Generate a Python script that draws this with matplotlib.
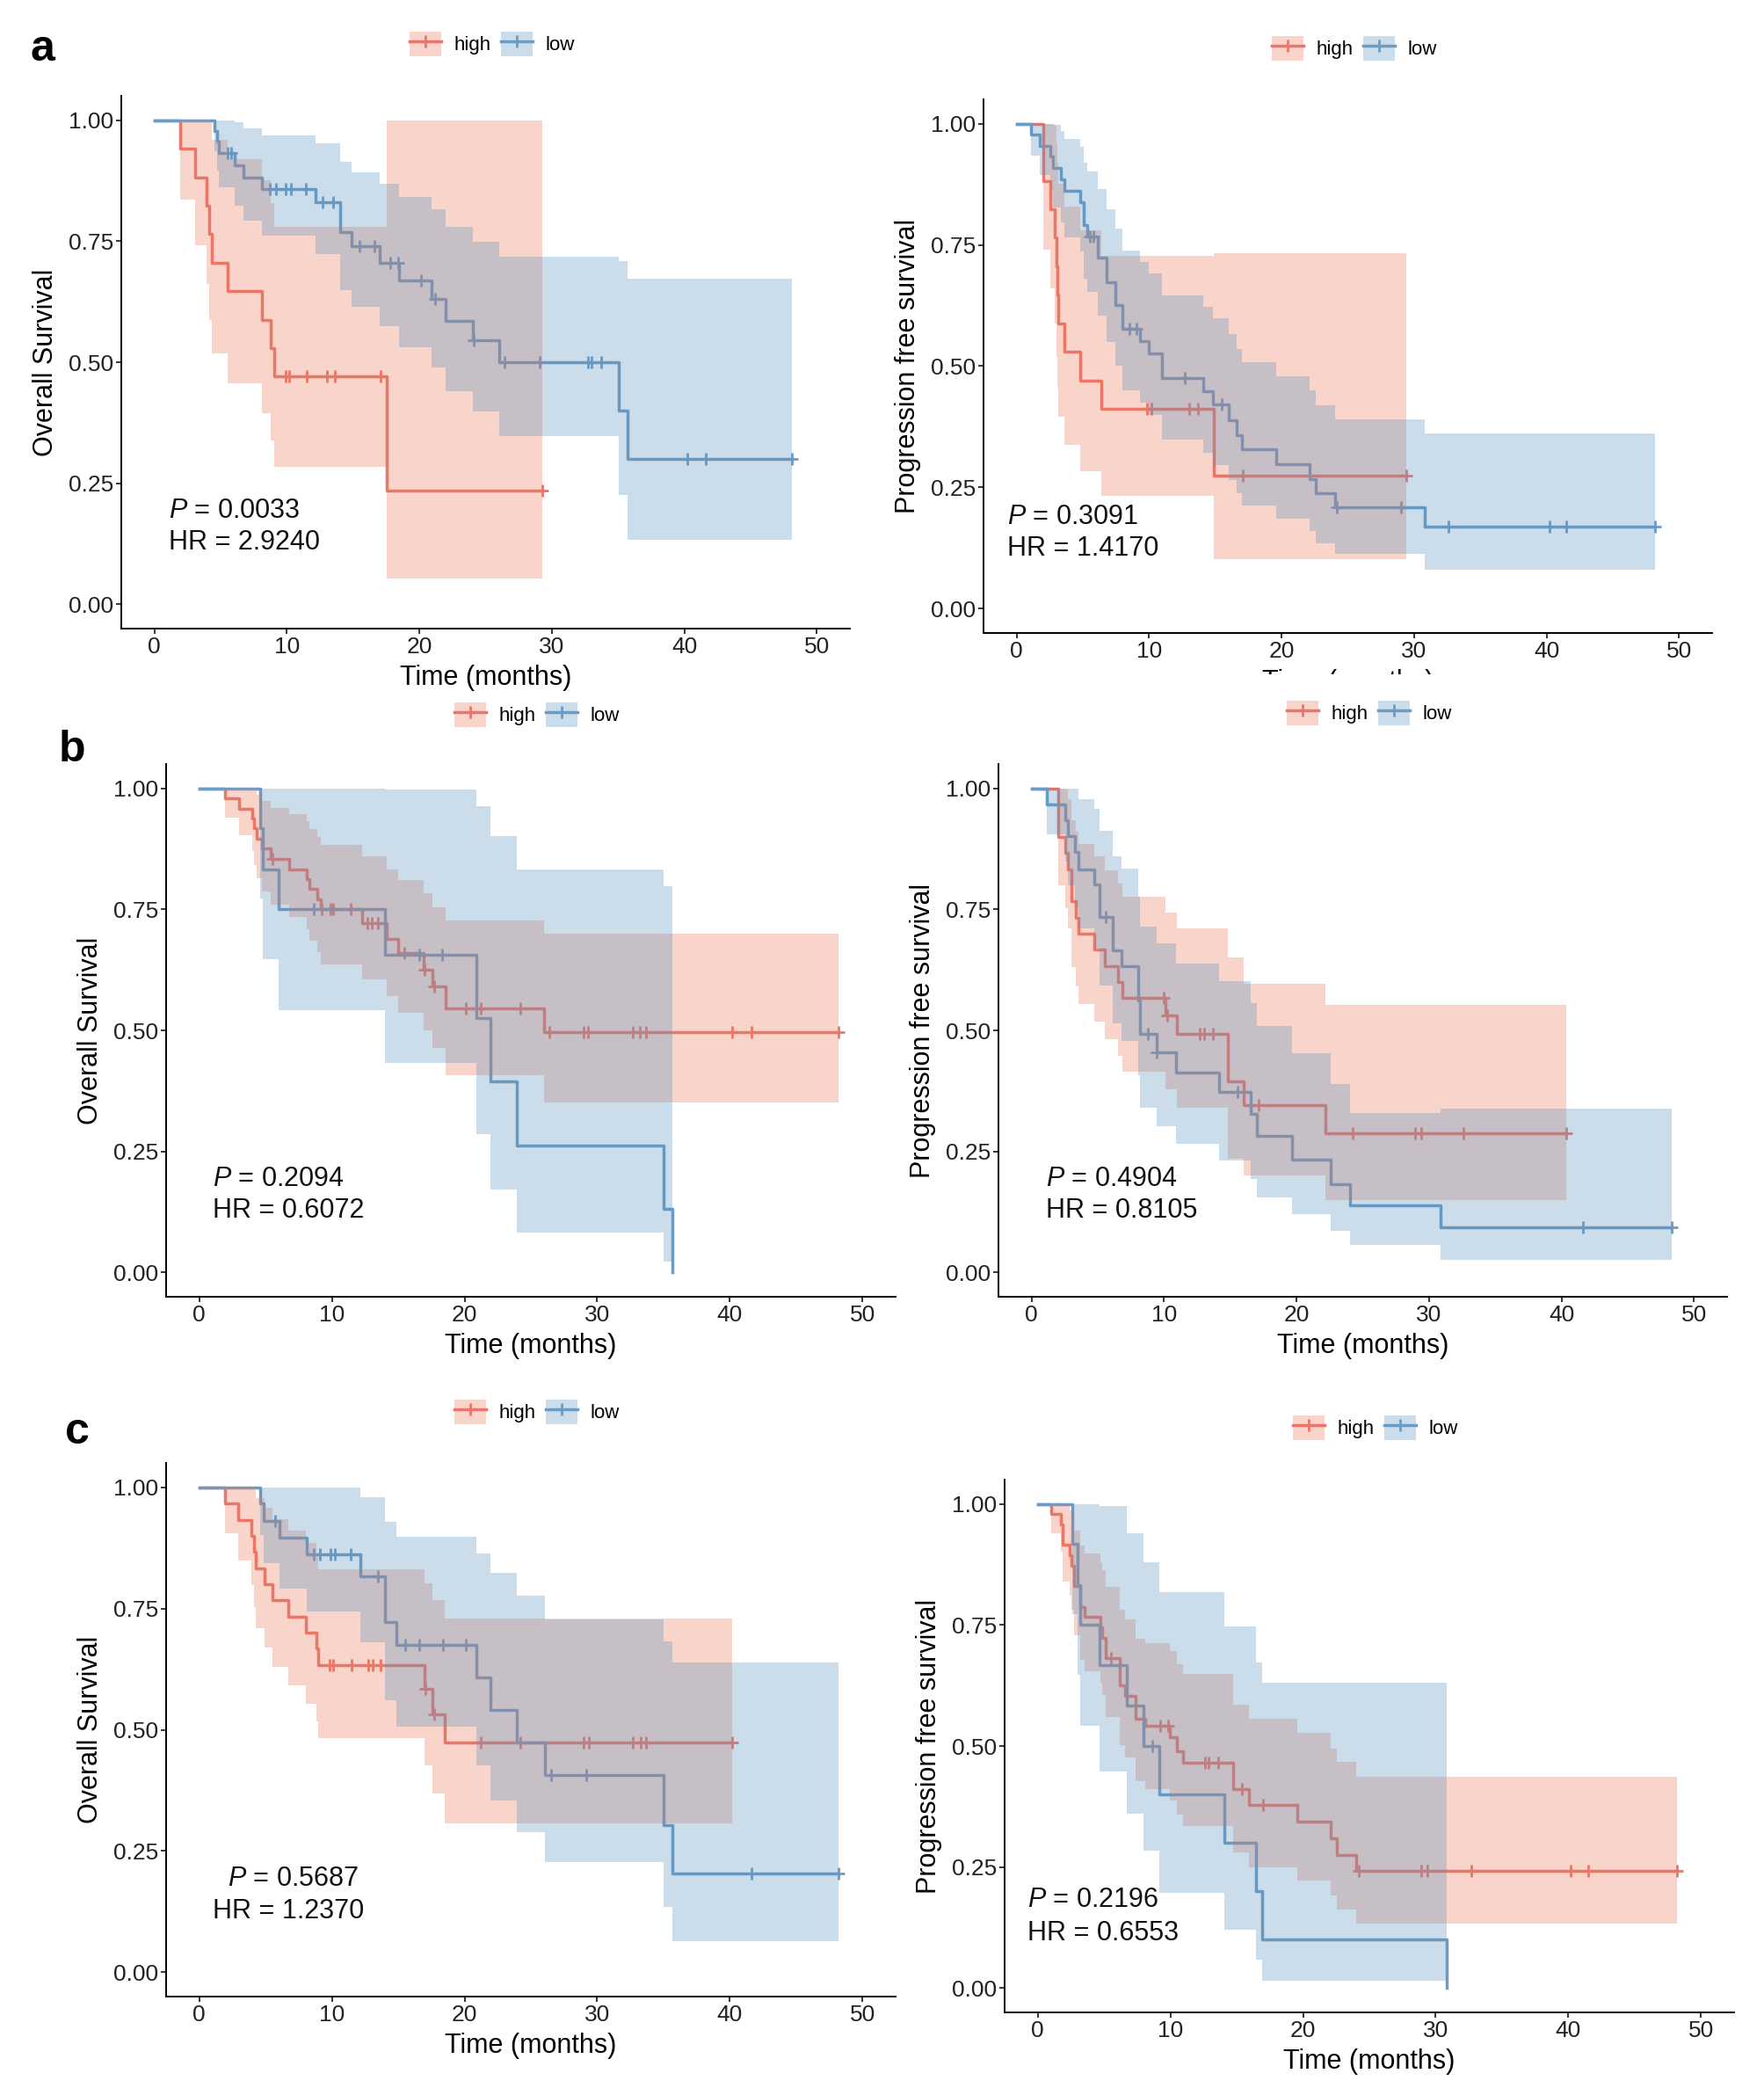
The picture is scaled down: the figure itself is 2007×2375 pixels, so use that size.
import matplotlib

matplotlib.use("Agg")

import matplotlib.pyplot as plt
import numpy as np
from matplotlib.legend_handler import HandlerTuple
from matplotlib.lines import Line2D
from matplotlib.patches import Patch
from matplotlib.transforms import Bbox, TransformedBbox

plt.rcParams["font.family"] = ["Liberation Sans", "DejaVu Sans"]
plt.rcParams["mathtext.fontset"] = "custom"
plt.rcParams["mathtext.rm"] = "Liberation Sans"
plt.rcParams["mathtext.it"] = "Liberation Sans:italic"

W, H = 2008, 2375
HIGH_COLOR = "#E9756B"
LOW_COLOR = "#6C9BC3"
HIGH_BAND = "#EF7A5A"
LOW_BAND = "#5F93C0"
BAND_ALPHA = 0.32
GROUPS = ["high", "low"]
X_TICKS = [0, 10, 20, 30, 40, 50]
Y_TICKS = [0.0, 0.25, 0.50, 0.75, 1.0]
Y_TICK_LABELS = ["0.00", "0.25", "0.50", "0.75", "1.00"]
X_LABEL = "Time (months)"

# ---- panel a, overall survival ----
A_OS_HIGH_T = [1.95, 3.05, 3.95, 4.12, 4.32, 5.55, 8.1, 8.8, 9.02, 17.53]
A_OS_HIGH_S = [0.941, 0.882, 0.824, 0.765, 0.706, 0.647, 0.588, 0.529, 0.471, 0.235]
A_OS_HIGH_HI = [1.0, 1.0, 1.0, 0.996, 0.959, 0.919, 0.876, 0.829, 0.780, 1.0]
A_OS_HIGH_LO = [0.836, 0.741, 0.661, 0.588, 0.519, 0.456, 0.395, 0.338, 0.284, 0.054]
A_OS_HIGH_CENS = [9.9, 10.2, 11.5, 13.0, 13.6, 17.1, 29.3]
A_OS_HIGH_END = 29.3

A_OS_LOW_T = [4.54, 4.76, 4.89, 6.04, 6.75, 8.12, 12.18, 14.0, 14.88, 16.98, 18.46,
              20.89, 21.95, 24.05, 26.04, 35.03, 35.7]
A_OS_LOW_S = [0.977, 0.955, 0.932, 0.906, 0.882, 0.858, 0.830, 0.769, 0.740, 0.706, 0.668,
              0.631, 0.586, 0.546, 0.500, 0.400, 0.300]
A_OS_LOW_HI = [1.0, 1.0, 1.0, 0.995, 0.983, 0.968, 0.952, 0.913, 0.892, 0.868, 0.841,
               0.815, 0.779, 0.749, 0.718, 0.708, 0.672]
A_OS_LOW_LO = [0.935, 0.895, 0.861, 0.824, 0.792, 0.761, 0.724, 0.648, 0.614, 0.574, 0.531,
               0.489, 0.441, 0.398, 0.347, 0.226, 0.134]
A_OS_LOW_CENS = [5.55, 5.8, 8.7, 9.2, 9.9, 10.3, 11.4, 12.7, 13.5, 15.5, 16.6, 17.8, 18.4,
                 20.1, 21.2, 24.1, 26.4, 29.1, 32.7, 33.0, 33.7, 40.2, 41.6, 48.1]
A_OS_LOW_END = 48.1

# ---- panel a, progression free survival ----
A_PFS_HIGH_T = [1.99, 2.54, 2.87, 3.03, 3.08, 3.14, 3.58, 4.79, 6.41, 14.85]
A_PFS_HIGH_S = [0.882, 0.824, 0.765, 0.706, 0.647, 0.588, 0.529, 0.471, 0.412, 0.275]
A_PFS_HIGH_HI = [1.0, 1.0, 0.996, 0.959, 0.919, 0.876, 0.829, 0.780, 0.727, 0.733]
A_PFS_HIGH_LO = [0.741, 0.661, 0.588, 0.519, 0.456, 0.395, 0.338, 0.284, 0.233, 0.103]
A_PFS_HIGH_CENS = [9.83, 10.17, 13.0, 13.7, 17.1, 29.4]
A_PFS_HIGH_END = 29.4

A_PFS_LOW_T = [1.06, 1.77, 2.54, 2.76, 3.31, 3.58, 4.8, 5.04, 5.35, 6.1, 6.8, 7.47, 8.0,
               9.28, 9.95, 10.94, 14.1, 14.8, 16.0, 16.6, 17.0, 19.6, 22.1, 22.6, 24.05, 30.8]
A_PFS_LOW_S = [0.977, 0.954, 0.932, 0.908, 0.885, 0.861, 0.838, 0.791, 0.768, 0.723, 0.673,
               0.626, 0.577, 0.551, 0.526, 0.475, 0.448, 0.421, 0.388, 0.357, 0.328, 0.298,
               0.268, 0.238, 0.210, 0.170]
A_PFS_LOW_HI = [1.0, 1.0, 1.0, 0.997, 0.984, 0.968, 0.953, 0.919, 0.902, 0.866, 0.824,
                0.783, 0.738, 0.714, 0.692, 0.646, 0.623, 0.598, 0.566, 0.536, 0.508, 0.480,
                0.450, 0.419, 0.391, 0.362]
A_PFS_LOW_LO = [0.934, 0.894, 0.861, 0.827, 0.796, 0.766, 0.737, 0.681, 0.654, 0.604, 0.550,
                0.501, 0.451, 0.425, 0.400, 0.349, 0.322, 0.296, 0.266, 0.238, 0.212, 0.185,
                0.160, 0.135, 0.113, 0.080]
A_PFS_LOW_CENS = [5.52, 5.79, 8.5, 9.06, 12.7, 15.5, 24.2, 29.0, 32.6, 40.2, 41.5, 48.2]
A_PFS_LOW_END = 48.2

# ---- panel b, overall survival ----
B_OS_HIGH_T = [1.95, 2.97, 3.97, 4.1, 4.3, 4.75, 5.4, 6.8, 8.07, 8.3, 8.93, 9.15, 12.25,
               14.1, 15.0, 16.9, 17.55, 18.55, 26.0]
B_OS_HIGH_S = [0.979, 0.958, 0.937, 0.917, 0.896, 0.875, 0.854, 0.833, 0.812, 0.792, 0.771,
               0.750, 0.722, 0.689, 0.659, 0.626, 0.591, 0.545, 0.496]
B_OS_HIGH_HI = [1.0, 1.0, 1.0, 0.999, 0.986, 0.974, 0.960, 0.947, 0.932, 0.916, 0.900,
                0.883, 0.860, 0.833, 0.810, 0.783, 0.754, 0.727, 0.700]
B_OS_HIGH_LO = [0.940, 0.903, 0.871, 0.842, 0.814, 0.787, 0.760, 0.735, 0.709, 0.685, 0.661,
                0.637, 0.606, 0.570, 0.536, 0.500, 0.464, 0.408, 0.352]
B_OS_HIGH_CENS = [5.5, 9.25, 9.9, 10.1, 11.4, 12.7, 13.0, 13.5, 15.45, 17.0, 17.7, 20.1,
                  21.2, 24.2, 26.4, 29.0, 29.3, 32.7, 33.2, 33.7, 40.2, 41.6, 48.2]
B_OS_HIGH_END = 48.2

B_OS_LOW_T = [4.62, 4.79, 5.98, 14.0, 20.86, 21.97, 23.95, 35.03, 35.68]
B_OS_LOW_S = [0.917, 0.833, 0.750, 0.656, 0.525, 0.394, 0.263, 0.131, 0.0]
B_OS_LOW_HI = [1.0, 1.0, 1.0, 0.997, 0.963, 0.902, 0.833, 0.797, 0.0]
B_OS_LOW_LO = [0.773, 0.647, 0.541, 0.432, 0.286, 0.172, 0.083, 0.022, 0.0]
B_OS_LOW_CENS = [8.6, 16.6, 18.3]
B_OS_LOW_END = 35.68

# ---- panel b, progression free survival ----
B_PFS_HIGH_T = [1.98, 2.54, 2.76, 2.98, 3.31, 3.53, 4.75, 5.52, 6.52, 6.85, 10.1, 11.0,
                14.84, 16.0, 22.16]
B_PFS_HIGH_S = [0.900, 0.867, 0.833, 0.767, 0.733, 0.700, 0.667, 0.633, 0.600, 0.567, 0.531,
                0.493, 0.394, 0.345, 0.287]
B_PFS_HIGH_HI = [1.0, 0.998, 0.977, 0.934, 0.910, 0.885, 0.859, 0.831, 0.803, 0.776, 0.744,
                 0.711, 0.650, 0.596, 0.553]
B_PFS_HIGH_LO = [0.799, 0.753, 0.710, 0.630, 0.591, 0.554, 0.518, 0.482, 0.448, 0.414, 0.379,
                 0.341, 0.235, 0.200, 0.149]
B_PFS_HIGH_CENS = [9.95, 10.25, 12.67, 13.0, 13.67, 17.14, 24.25, 28.97, 29.4, 32.6, 40.34]
B_PFS_HIGH_END = 40.34

B_PFS_LOW_T = [1.13, 2.51, 2.76, 3.26, 3.55, 4.72, 5.10, 6.15, 6.81, 8.03, 8.15, 9.41,
               10.87, 14.13, 16.51, 17.01, 19.65, 22.58, 24.04, 30.85]
B_PFS_LOW_S = [0.967, 0.934, 0.901, 0.869, 0.833, 0.801, 0.735, 0.666, 0.632, 0.562, 0.493,
               0.454, 0.412, 0.373, 0.328, 0.282, 0.233, 0.183, 0.138, 0.093]
B_PFS_LOW_HI = [1.0, 1.0, 1.0, 1.0, 0.977, 0.958, 0.912, 0.860, 0.834, 0.776, 0.715, 0.680,
                0.638, 0.601, 0.557, 0.509, 0.452, 0.389, 0.330, 0.338]
B_PFS_LOW_LO = [0.904, 0.849, 0.800, 0.755, 0.710, 0.670, 0.592, 0.515, 0.479, 0.407, 0.340,
                0.303, 0.266, 0.232, 0.193, 0.156, 0.120, 0.086, 0.058, 0.027]
B_PFS_LOW_CENS = [5.6, 8.75, 9.45, 15.55, 41.6, 48.3]
B_PFS_LOW_END = 48.3

# ---- panel c, overall survival ----
C_OS_HIGH_T = [1.92, 2.96, 3.95, 4.1, 4.28, 4.94, 5.5, 6.71, 8.04, 8.81, 8.95, 17.0, 17.6,
               18.5]
C_OS_HIGH_S = [0.967, 0.933, 0.900, 0.867, 0.833, 0.800, 0.767, 0.733, 0.700, 0.667, 0.633,
               0.585, 0.532, 0.473]
C_OS_HIGH_HI = [1.0, 1.0, 1.0, 0.998, 0.977, 0.957, 0.934, 0.910, 0.885, 0.859, 0.831,
                0.801, 0.767, 0.729]
C_OS_HIGH_LO = [0.905, 0.848, 0.799, 0.753, 0.710, 0.669, 0.630, 0.591, 0.554, 0.518, 0.482,
                0.427, 0.369, 0.307]
C_OS_HIGH_CENS = [9.8, 10.1, 11.5, 12.75, 13.1, 13.7, 17.05, 17.7, 21.2, 24.2, 29.0, 29.4,
                  32.7, 33.3, 33.7, 40.2]
C_OS_HIGH_END = 40.2

C_OS_LOW_T = [4.62, 4.85, 6.05, 8.1, 12.17, 14.0, 14.89, 20.86, 21.97, 23.95, 26.06, 35.03,
              35.68]
C_OS_LOW_S = [0.966, 0.931, 0.896, 0.862, 0.817, 0.722, 0.675, 0.607, 0.540, 0.473, 0.407,
              0.303, 0.204]
C_OS_LOW_HI = [1.0, 1.0, 1.0, 1.0, 0.980, 0.929, 0.898, 0.864, 0.823, 0.777, 0.728, 0.682,
               0.638]
C_OS_LOW_LO = [0.902, 0.843, 0.790, 0.743, 0.681, 0.561, 0.507, 0.427, 0.354, 0.288, 0.227,
               0.135, 0.065]
C_OS_LOW_CENS = [5.7, 8.6, 9.1, 9.9, 10.2, 11.4, 13.5, 15.5, 16.6, 18.4, 20.1, 26.5, 29.2,
                 41.6, 48.2]
C_OS_LOW_END = 48.2

# ---- panel c, progression free survival ----
C_PFS_HIGH_T = [1.0, 1.77, 1.88, 2.43, 2.54, 2.76, 3.2, 3.54, 4.75, 4.86, 5.1, 6.19, 6.6,
                7.4, 8.07, 9.95, 10.5, 10.94, 14.7, 15.9, 19.56, 22.06, 22.55, 23.98]
C_PFS_HIGH_S = [0.979, 0.957, 0.915, 0.894, 0.872, 0.830, 0.787, 0.766, 0.745, 0.723, 0.681,
                0.626, 0.603, 0.556, 0.541, 0.519, 0.489, 0.465, 0.411, 0.378, 0.344, 0.310,
                0.275, 0.242]
C_PFS_HIGH_HI = [1.0, 1.0, 0.998, 0.987, 0.973, 0.945, 0.913, 0.897, 0.880, 0.863, 0.828,
                 0.781, 0.762, 0.722, 0.712, 0.696, 0.668, 0.648, 0.585, 0.557, 0.528, 0.495,
                 0.467, 0.436]
C_PFS_HIGH_LO = [0.939, 0.901, 0.839, 0.810, 0.781, 0.729, 0.678, 0.654, 0.630, 0.606, 0.560,
                 0.502, 0.477, 0.428, 0.411, 0.387, 0.358, 0.334, 0.280, 0.250, 0.222, 0.192,
                 0.162, 0.134]
C_PFS_HIGH_CENS = [5.53, 9.24, 9.84, 12.6, 12.85, 13.6, 15.4, 17.0, 24.2, 28.9, 29.4, 32.7,
                   40.2, 41.5, 48.2]
C_PFS_HIGH_END = 48.2

C_PFS_LOW_T = [2.61, 2.98, 3.2, 4.64, 6.74, 7.96, 9.17, 14.04, 16.47, 16.91, 30.8]
C_PFS_LOW_S = [0.917, 0.833, 0.750, 0.667, 0.583, 0.500, 0.400, 0.300, 0.200, 0.100, 0.0]
C_PFS_LOW_HI = [1.0, 1.0, 1.0, 0.995, 0.940, 0.880, 0.818, 0.747, 0.673, 0.630, 0.0]
C_PFS_LOW_LO = [0.773, 0.647, 0.541, 0.447, 0.361, 0.284, 0.196, 0.120, 0.059, 0.016, 0.0]
C_PFS_LOW_CENS = [8.6]
C_PFS_LOW_END = 30.8

P_VALUES = ["0.0033", "0.3091", "0.2094", "0.4904", "0.5687", "0.2196"]
HR_VALUES = ["2.9240", "1.4170", "0.6072", "0.8105", "1.2370", "0.6553"]
Y_LABELS = ["Overall Survival", "Progression free survival"] * 3
PANEL_LETTERS = ["a", "b", "c"]


def curve(t, s, hi, lo, cens, end):
    return {"t": t, "s": s, "hi": hi, "lo": lo, "cens": cens, "end": end}


PANELS = [
    {
        "box": (138, 109, 967, 715),
        "high": curve(A_OS_HIGH_T, A_OS_HIGH_S, A_OS_HIGH_HI, A_OS_HIGH_LO, A_OS_HIGH_CENS, A_OS_HIGH_END),
        "low": curve(A_OS_LOW_T, A_OS_LOW_S, A_OS_LOW_HI, A_OS_LOW_LO, A_OS_LOW_CENS, A_OS_LOW_END),
        "legend": (560, 50),
        "p_pos": (1.06, 0.179), "hr_pos": (1.06, 0.114),
    },
    {
        "box": (1119, 113, 1948, 720),
        "high": curve(A_PFS_HIGH_T, A_PFS_HIGH_S, A_PFS_HIGH_HI, A_PFS_HIGH_LO, A_PFS_HIGH_CENS, A_PFS_HIGH_END),
        "low": curve(A_PFS_LOW_T, A_PFS_LOW_S, A_PFS_LOW_HI, A_PFS_LOW_LO, A_PFS_LOW_CENS, A_PFS_LOW_END),
        "legend": (1541, 55),
        "p_pos": (-0.68, 0.175), "hr_pos": (-0.68, 0.109),
        "clip_xlabel": 767,
    },
    {
        "box": (189, 869, 1019, 1475),
        "high": curve(B_OS_HIGH_T, B_OS_HIGH_S, B_OS_HIGH_HI, B_OS_HIGH_LO, B_OS_HIGH_CENS, B_OS_HIGH_END),
        "low": curve(B_OS_LOW_T, B_OS_LOW_S, B_OS_LOW_HI, B_OS_LOW_LO, B_OS_LOW_CENS, B_OS_LOW_END),
        "legend": (611, 813),
        "p_pos": (1.04, 0.179), "hr_pos": (1.04, 0.113),
    },
    {
        "box": (1136, 869, 1965, 1475),
        "high": curve(B_PFS_HIGH_T, B_PFS_HIGH_S, B_PFS_HIGH_HI, B_PFS_HIGH_LO, B_PFS_HIGH_CENS, B_PFS_HIGH_END),
        "low": curve(B_PFS_LOW_T, B_PFS_LOW_S, B_PFS_LOW_HI, B_PFS_LOW_LO, B_PFS_LOW_CENS, B_PFS_LOW_END),
        "legend": (1558, 811),
        "p_pos": (1.05, 0.179), "hr_pos": (1.05, 0.113),
    },
    {
        "box": (189, 1664, 1019, 2271),
        "high": curve(C_OS_HIGH_T, C_OS_HIGH_S, C_OS_HIGH_HI, C_OS_HIGH_LO, C_OS_HIGH_CENS, C_OS_HIGH_END),
        "low": curve(C_OS_LOW_T, C_OS_LOW_S, C_OS_LOW_HI, C_OS_LOW_LO, C_OS_LOW_CENS, C_OS_LOW_END),
        "legend": (611, 1606),
        "p_pos": (2.16, 0.179), "hr_pos": (1.04, 0.111),
    },
    {
        "box": (1143, 1683, 1973, 2289),
        "high": curve(C_PFS_HIGH_T, C_PFS_HIGH_S, C_PFS_HIGH_HI, C_PFS_HIGH_LO, C_PFS_HIGH_CENS, C_PFS_HIGH_END),
        "low": curve(C_PFS_LOW_T, C_PFS_LOW_S, C_PFS_LOW_HI, C_PFS_LOW_LO, C_PFS_LOW_CENS, C_PFS_LOW_END),
        "legend": (1565, 1624),
        "p_pos": (-0.75, 0.167), "hr_pos": (-0.75, 0.099),
    },
]
LETTER_POS = [(48, 56), (82, 853), (88, 1629)]

LINE_W = 2.5
MARK = dict(marker="+", markersize=10, markeredgewidth=2.0)


def survival_at(t, s, x):
    idx = np.searchsorted(np.asarray(t), np.asarray(x), side="right") - 1
    vals = np.asarray(s)[np.clip(idx, 0, None)]
    return np.where(idx >= 0, vals, 1.0)


def draw_group(ax, data, color, band):
    x = [0.0] + data["t"] + [data["end"]]
    y = [1.0] + data["s"] + [data["s"][-1]]
    ax.step(x, y, where="post", color=color, lw=LINE_W, zorder=2)
    ax.plot(data["cens"], survival_at(data["t"], data["s"], data["cens"]),
            ls="none", color=color, zorder=2, **MARK)
    lo = [1.0] + data["lo"] + [data["lo"][-1]]
    hi = [1.0] + data["hi"] + [data["hi"][-1]]
    ax.fill_between(x, lo, hi, step="post", color=band, alpha=BAND_ALPHA,
                    linewidth=0, zorder=3)


def legend_handles():
    handles = []
    for color, band in ((HIGH_COLOR, HIGH_BAND), (LOW_COLOR, LOW_BAND)):
        patch = Patch(facecolor=band, alpha=BAND_ALPHA, edgecolor="none")
        line = Line2D([], [], color=color, lw=LINE_W, **MARK)
        handles.append((patch, line))
    return handles


fig = plt.figure(figsize=(W / 100, H / 100), dpi=100)

for i, panel in enumerate(PANELS):
    x0, y0, x1, y1 = panel["box"]
    ax = fig.add_axes([x0 / W, 1 - y1 / H, (x1 - x0) / W, (y1 - y0) / H])
    draw_group(ax, panel["high"], HIGH_COLOR, HIGH_BAND)
    draw_group(ax, panel["low"], LOW_COLOR, LOW_BAND)

    ax.set_xlim(-2.5, 52.5)
    ax.set_ylim(-0.05, 1.05)
    ax.set_xticks(X_TICKS)
    ax.set_yticks(Y_TICKS)
    ax.set_yticklabels(Y_TICK_LABELS)
    for side in ("top", "right"):
        ax.spines[side].set_visible(False)
    for side in ("left", "bottom"):
        ax.spines[side].set_linewidth(1.4)
    ax.tick_params(length=4, width=1.1, labelsize=19, color="black",
                   labelcolor="#222222", pad=2.5)

    ax.set_ylabel(Y_LABELS[i], fontsize=22, va="center")
    ax.yaxis.set_label_coords(-86 / (x1 - x0), 0.5)
    ax.set_xlabel(X_LABEL, fontsize=22, va="center")
    ax.xaxis.set_label_coords(0.5, -56 / (y1 - y0))

    if "clip_xlabel" in panel:
        # the lower part of this label sits under the next row in the original
        cut = panel["clip_xlabel"]
        clip = TransformedBbox(Bbox([[0.5, 1 - cut / H], [1.0, 1.0]]), fig.transFigure)
        ax.xaxis.label.set_clip_on(True)
        ax.xaxis.label.set_clip_box(clip)

    ax.text(*panel["p_pos"], f"$\\mathit{{P}}$ = {P_VALUES[i]}", fontsize=22,
            ha="left", va="baseline", color="#111111")
    ax.text(*panel["hr_pos"], f"HR = {HR_VALUES[i]}", fontsize=22,
            ha="left", va="baseline", color="#111111")

    cx, cy = panel["legend"]
    fig.legend(legend_handles(), GROUPS, handler_map={tuple: HandlerTuple(ndivide=1)},
               loc="center", bbox_to_anchor=(cx / W, 1 - cy / H), ncol=2,
               frameon=False, fontsize=16, handlelength=1.6, handleheight=1.55,
               handletextpad=0.65, columnspacing=0.55, borderpad=0,
               borderaxespad=0, numpoints=1)

for letter, (lx, ly) in zip(PANEL_LETTERS, LETTER_POS):
    fig.text(lx / W, 1 - ly / H, letter, fontsize=36, fontweight="bold",
             ha="center", va="center")

fig.savefig("out.png", dpi=100)
